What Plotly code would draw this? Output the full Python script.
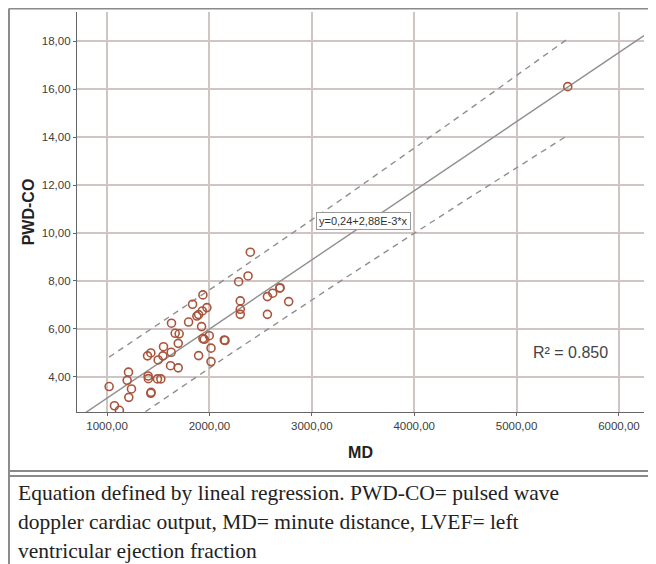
import numpy as np
import plotly.graph_objects as go

# MD (x) and PWD-CO (y)
md = [1020, 1072, 1120, 1209, 1196, 1238, 1212, 1395, 1427, 1401, 1403, 1427, 1430,
      1492, 1525, 1499, 1545, 1551, 1626, 1620, 1695, 1695, 1665, 1704, 1629, 1796,
      1835, 1936, 1877, 1894, 1930, 1975, 1923, 1936, 1949, 1998, 1894, 2015, 2015,
      2145, 2152, 2285, 2377, 2399, 2301, 2301, 2301, 2566, 2618, 2686, 2690, 2774,
      2566, 5500]
pwd_co = [3.60, 2.80, 2.61, 4.20, 3.86, 3.50, 3.15, 4.88, 5.00, 4.04, 3.93, 3.32, 3.36,
          3.92, 3.92, 4.71, 4.88, 5.26, 5.03, 4.47, 4.38, 5.40, 5.82, 5.80, 6.24, 6.29,
          7.03, 7.42, 6.54, 6.60, 6.75, 6.89, 6.10, 5.60, 5.57, 5.72, 4.89, 5.20, 4.64,
          5.54, 5.52, 7.97, 8.21, 9.20, 7.17, 6.82, 6.61, 7.35, 7.49, 7.70, 7.72, 7.14,
          6.61, 16.10]

# fitted line as printed on the chart
b0 = 0.24
b1 = 2.88e-3
equation = "y=0,24+2,88E-3*x"
r2_label = "R² = 0.850"

caption = ["Equation defined by lineal regression. PWD-CO= pulsed wave",
           "doppler cardiac output, MD= minute distance, LVEF= left",
           "ventricular ejection fraction"]

x = np.array(md, dtype=float)
y = np.array(pwd_co, dtype=float)
n = len(x)

# 95% individual prediction interval around the fit
resid = y - (b0 + b1 * x)
s = np.sqrt(np.sum(resid ** 2) / (n - 2))
sxx = np.sum((x - x.mean()) ** 2)
t = 2.007
xs = np.linspace(x.min(), x.max(), 60)
half = t * s * np.sqrt(1 + 1 / n + (xs - x.mean()) ** 2 / sxx)
fit_xs = b0 + b1 * xs

x_rng = [706, 6245]
y_rng = [2.54, 19.21]
line_x = np.array(x_rng)

grey = "#8f8f8f"
fig = go.Figure()
fig.add_trace(go.Scatter(x=line_x, y=b0 + b1 * line_x, mode="lines",
                         line=dict(color=grey, width=1.4), hoverinfo="skip"))
fig.add_trace(go.Scatter(x=xs, y=fit_xs + half, mode="lines",
                         line=dict(color=grey, width=1.4, dash="6px,5px"), hoverinfo="skip"))
fig.add_trace(go.Scatter(x=xs, y=fit_xs - half, mode="lines",
                         line=dict(color=grey, width=1.4, dash="6px,5px"), hoverinfo="skip"))
fig.add_trace(go.Scatter(x=md, y=pwd_co, mode="markers",
                         marker=dict(symbol="circle-open", size=8,
                                     color="#a8553c", line=dict(width=1.6))))

grid = "#cfc6c4"
tickfont = dict(family="Liberation Sans, Arial", size=11.5, color="#3c3c3c")
fig.update_xaxes(range=x_rng, tickvals=[1000, 2000, 3000, 4000, 5000, 6000],
                 tickformat=".2f", showgrid=True, gridcolor=grid, gridwidth=1.5,
                 showline=True, linecolor="#666", linewidth=1.3, zeroline=False,
                 ticks="outside", ticklen=3, tickcolor="#666", tickfont=tickfont,
                 automargin=False,
                 title=dict(text="<b>MD</b>", standoff=15,
                            font=dict(family="Liberation Sans, Arial", size=16, color="#222")))
fig.update_yaxes(range=y_rng, tickvals=[4, 6, 8, 10, 12, 14, 16, 18],
                 tickformat=".2f", showgrid=True, gridcolor=grid, gridwidth=1.5,
                 showline=True, linecolor="#666", linewidth=1.3, zeroline=False,
                 ticks="outside", ticklen=3, tickcolor="#666", tickfont=tickfont,
                 automargin=False,
                 title=dict(text="<b>PWD-CO</b>", standoff=3,
                            font=dict(family="Liberation Sans, Arial", size=16, color="#222")))

annotations = [
    dict(x=3045, y=10.5, xref="x", yref="y", text=equation,
         showarrow=False, font=dict(family="Liberation Sans, Arial", size=11, color="#333"),
         bgcolor="white", bordercolor="#999", borderwidth=1, borderpad=2,
         xanchor="left", yanchor="middle"),
    dict(x=5139, y=5.04, xref="x", yref="y", text=r2_label, showarrow=False,
         font=dict(family="Liberation Sans, Arial", size=16, color="#444"),
         xanchor="left", yanchor="middle"),
]
# page body adds 8px, so figure pixels = reference pixels - 8
for i, line in enumerate(caption):
    annotations.append(dict(x=(8 - 69) / 567, y=(404 - (485 + 29 * i)) / 400,
                            xref="paper", yref="paper",
                            text=line, showarrow=False, xanchor="left", yanchor="middle",
                            font=dict(family="Liberation Serif, Times New Roman", size=21.5,
                                      color="#222")))

box = dict(color="#8a8a8a", width=2)
shapes = [
    dict(type="line", xref="paper", yref="paper", x0=-0.12, x1=1.03, y0=1.009, y1=1.009, line=box),
    dict(type="line", xref="paper", yref="paper", x0=-0.12, x1=-0.12, y0=1.009, y1=-0.39, line=box),
    dict(type="line", xref="paper", yref="paper", x0=-0.12, x1=1.03, y0=-0.1475, y1=-0.1475, line=box),
    dict(type="line", xref="paper", yref="paper", x0=-0.12, x1=1.03, y0=-0.16, y1=-0.16, line=box),
]

fig.update_layout(width=648, height=556, margin=dict(l=69, r=12, t=4, b=152),
                  plot_bgcolor="white", paper_bgcolor="white", showlegend=False,
                  separators=",.", annotations=annotations, shapes=shapes)

fig.write_html("out.html")
